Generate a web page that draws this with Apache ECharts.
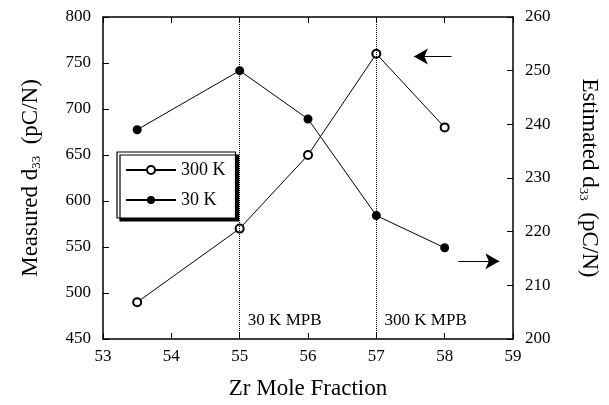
<!DOCTYPE html>
<html><head><meta charset="utf-8">
<script src="https://cdn.jsdelivr.net/npm/echarts@6/dist/echarts.min.js"></script>
<style>html,body{margin:0;padding:0;background:#fff}#c{width:609px;height:405px}</style>
</head><body><div id="c"></div>
<script>
const zr = [53.5, 55, 56, 57, 58];
const d300 = [490, 570, 650, 760, 680];
const d30 = [239, 250, 241, 223, 217];
const mpbLines = [55, 57];
const mpbLabels = ['30 K MPB', '300 K MPB'];
const arrowLeft = [[58.1, 757], [57.55, 757]];
const arrowRight = [[58.2, 214.5], [58.8, 214.5]];

const F = 'Liberation Serif';
const chart = echarts.init(document.getElementById('c'));
const axisLine = {show: true, lineStyle: {color: '#000', width: 1.5}};
const subRich = {s: {fontFamily: F, fontSize: 13, color: '#000', verticalAlign: 'bottom', padding: [12, 0, 0, 0]}};
chart.setOption({
  animation: false,
  textStyle: {fontFamily: F},
  grid: {left: 103, right: 94, top: 17, bottom: 62},
  legend: {
    left: 117, top: 152, orient: 'vertical', itemWidth: 50, itemHeight: 10, itemGap: 12,
    padding: [9, 10, 9, 8],
    backgroundColor: '#fff', borderColor: '#000', borderWidth: 1.2,
    shadowColor: '#000', shadowOffsetX: 3, shadowOffsetY: 3, shadowBlur: 0,
    textStyle: {fontFamily: F, fontSize: 18, color: '#000'},
    data: ['300 K', '30 K']
  },
  xAxis: [{
    type: 'value', min: 53, max: 59, interval: 1,
    name: 'Zr Mole Fraction', nameLocation: 'middle', nameGap: 38,
    nameTextStyle: {fontFamily: F, fontSize: 23, color: '#000'},
    axisLine, axisTick: {inside: true, length: 6, lineStyle: {color: '#000'}},
    axisLabel: {fontFamily: F, fontSize: 17, color: '#000', margin: 9},
    splitLine: {show: false}
  }, {
    type: 'value', position: 'top', min: 53, max: 59, interval: 1,
    axisLine, axisTick: {inside: true, length: 6, lineStyle: {color: '#000'}},
    axisLabel: {show: false}, splitLine: {show: false}
  }],
  yAxis: [{
    type: 'value', min: 450, max: 800, interval: 50,
    name: 'Measured d{s|33}  (pC/N)', nameLocation: 'middle', nameGap: 60,
    nameTextStyle: {fontFamily: F, fontSize: 23, color: '#000', rich: subRich},
    axisLine, axisTick: {inside: true, length: 6, lineStyle: {color: '#000'}},
    axisLabel: {fontFamily: F, fontSize: 17, color: '#000', margin: 12},
    splitLine: {show: false}
  }, {
    type: 'value', position: 'right', min: 200, max: 260, interval: 10,
    name: 'Estimated d{s|33}  (pC/N)', nameLocation: 'middle', nameGap: 64, nameRotate: -90,
    nameTextStyle: {fontFamily: F, fontSize: 23, color: '#000', rich: subRich},
    axisLine, axisTick: {inside: true, length: 6, lineStyle: {color: '#000'}},
    axisLabel: {fontFamily: F, fontSize: 17, color: '#000', margin: 12},
    splitLine: {show: false}
  }],
  series: [{
    name: '300 K', type: 'line', yAxisIndex: 0,
    data: zr.map((x, i) => [x, d300[i]]),
    symbol: 'emptyCircle', symbolSize: 8,
    lineStyle: {color: '#000', width: 1},
    itemStyle: {color: '#000', borderColor: '#000', borderWidth: 1},
    markLine: {
      silent: true, symbol: 'none',
      lineStyle: {type: 'dotted', color: '#000', width: 1},
      label: {show: false},
      data: mpbLines.map(v => ({xAxis: v}))
    }
  }, {
    name: '30 K', type: 'line', yAxisIndex: 1,
    data: zr.map((x, i) => [x, d30[i]]),
    symbol: 'circle', symbolSize: 9,
    lineStyle: {color: '#000', width: 1},
    itemStyle: {color: '#000'}
  }, {
    type: 'line', yAxisIndex: 0, data: [], silent: true,
    markLine: {
      silent: true, symbol: ['none', 'arrow'], symbolSize: [12, 14],
      lineStyle: {type: 'solid', color: '#000', width: 1},
      label: {show: false},
      data: [[{coord: arrowLeft[0]}, {coord: arrowLeft[1]}]]
    }
  }, {
    type: 'line', yAxisIndex: 1, data: [], silent: true,
    markLine: {
      silent: true, symbol: ['none', 'arrow'], symbolSize: [12, 14],
      lineStyle: {type: 'solid', color: '#000', width: 1},
      label: {show: false},
      data: [[{coord: arrowRight[0]}, {coord: arrowRight[1]}]]
    }
  }, {
    type: 'scatter', yAxisIndex: 0, silent: true, symbolSize: 0,
    itemStyle: {opacity: 1},
    data: [[55.12, 470], [57.12, 470]],
    label: {show: true, position: 'right', distance: 0, fontFamily: F, fontSize: 17, color: '#000',
      formatter: p => mpbLabels[p.dataIndex]}
  }]
});
</script></body></html>
